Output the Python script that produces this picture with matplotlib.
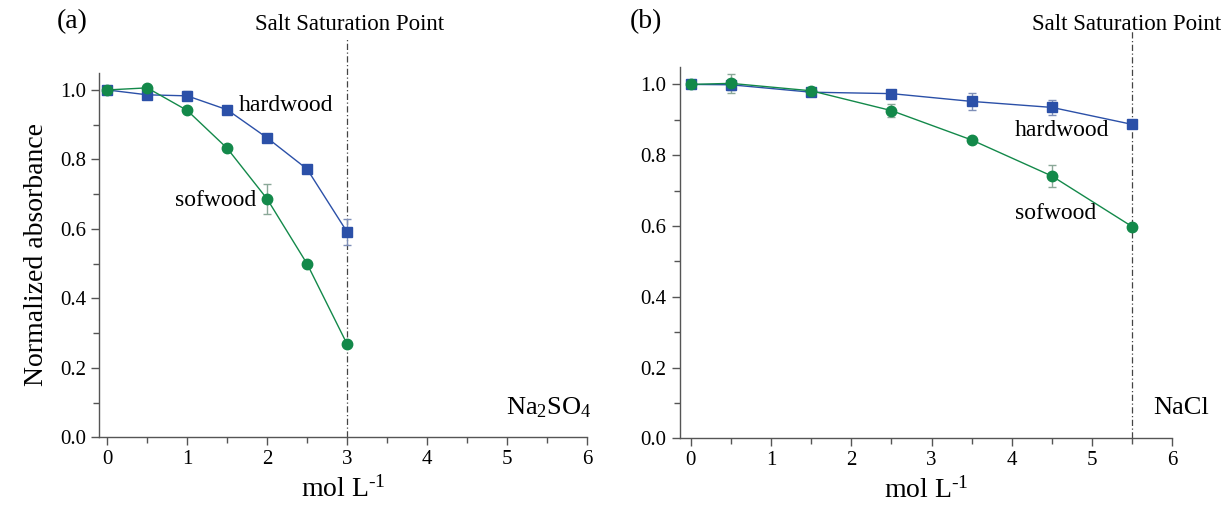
import numpy as np
import matplotlib
matplotlib.use('Agg')
import matplotlib.pyplot as plt
from matplotlib.ticker import MultipleLocator, FormatStrFormatter

plt.rcParams['font.family'] = ['Liberation Serif', 'DejaVu Serif']
plt.rcParams['mathtext.fontset'] = 'custom'
plt.rcParams['mathtext.rm'] = 'Liberation Serif'
plt.rcParams['mathtext.it'] = 'Liberation Serif:italic'

# panel (a): Na2SO4
conc_a = [0, 0.5, 1, 1.5, 2, 2.5, 3]
hard_a = [1.0, 0.986, 0.983, 0.943, 0.862, 0.772, 0.591]
hard_a_err = [0.0, 0.005, 0.013, 0.006, 0.006, 0.011, 0.037]
soft_a = [1.0, 1.006, 0.941, 0.832, 0.686, 0.499, 0.268]
soft_a_err = [0.0, 0.004, 0.004, 0.004, 0.043, 0.004, 0.004]

# panel (b): NaCl
conc_b = [0, 0.5, 1.5, 2.5, 3.5, 4.5, 5.5]
hard_b = [1.0, 0.999, 0.978, 0.974, 0.952, 0.935, 0.887]
hard_b_err = [0.0, 0.015, 0.004, 0.004, 0.024, 0.02, 0.004]
soft_b = [1.0, 1.003, 0.982, 0.926, 0.843, 0.741, 0.598]
soft_b_err = [0.0, 0.027, 0.004, 0.018, 0.004, 0.032, 0.006]

sat_a = 3.0
sat_b = 5.5

blue = '#2b50a8'
green = '#13894a'

fig = plt.figure(figsize=(12.27, 5.09), dpi=100)
ax1 = fig.add_axes([0.0809, 0.1409, 0.3975, 0.7165])
ax2 = fig.add_axes([0.5538, 0.1389, 0.4017, 0.730])


def draw(ax, x, hard, hard_err, soft, soft_err, sat, xmin):
    ax.errorbar(x, hard, yerr=hard_err, color=blue, marker='s', ms=6.5, lw=1.0,
                ecolor='#7f8fb8', elinewidth=1.0, capsize=3, zorder=3)
    ax.errorbar(x, soft, yerr=soft_err, color=green, marker='o', ms=7.5, lw=1.0,
                ecolor='#8aa898', elinewidth=1.0, capsize=3, zorder=3)
    ax.plot([sat, sat], [0, 1.15], color='#444444', lw=0.9,
            linestyle=(0, (5, 2, 1, 2)), clip_on=False, zorder=2)
    ax.set_xlim(xmin, 6)
    ax.set_ylim(0, 1.05)
    ax.xaxis.set_major_locator(MultipleLocator(1))
    ax.xaxis.set_minor_locator(MultipleLocator(0.5))
    ax.yaxis.set_major_locator(MultipleLocator(0.2))
    ax.yaxis.set_minor_locator(MultipleLocator(0.1))
    ax.yaxis.set_major_formatter(FormatStrFormatter('%.1f'))
    ax.spines['top'].set_visible(False)
    ax.spines['right'].set_visible(False)
    for s in ['left', 'bottom']:
        ax.spines[s].set_color('#555555')
        ax.spines[s].set_linewidth(1.0)
    ax.tick_params(which='major', direction='out', length=6, width=1.0,
                   color='#555555', labelsize=15)
    ax.tick_params(which='minor', direction='out', length=4, width=1.0,
                   color='#555555')
    ax.set_xlabel('mol L$^{\u20101}$', fontsize=20, labelpad=5)


draw(ax1, conc_a, hard_a, hard_a_err, soft_a, soft_a_err, sat_a, -0.1)
draw(ax2, conc_b, hard_b, hard_b_err, soft_b, soft_b_err, sat_b, -0.14)

ax1.set_ylabel('Normalized absorbance', fontsize=20, labelpad=8)

ax1.text(1.64, 0.954, 'hardwood', fontsize=17, ha='left', va='center')
ax1.text(1.86, 0.683, 'sofwood', fontsize=17, ha='right', va='center')
ax1.text(6.06, 0.084, 'Na$_\\mathregular{2}$SO$_\\mathregular{4}$', fontsize=19,
         ha='right', va='center', clip_on=False)

ax2.text(4.04, 0.871, 'hardwood', fontsize=17, ha='left', va='center')
ax2.text(4.04, 0.636, 'sofwood', fontsize=17, ha='left', va='center')
ax2.text(5.76, 0.085, 'NaCl', fontsize=19, ha='left', va='center', clip_on=False)

fig.text(72 / 1227, 1 - 22 / 509, '(a)', fontsize=20, ha='center', va='center')
fig.text(646 / 1227, 1 - 22 / 509, '(b)', fontsize=20, ha='center', va='center')
fig.text(350 / 1227, 1 - 24 / 509, 'Salt Saturation Point', fontsize=16.5,
         ha='center', va='center')
fig.text(1127 / 1227, 1 - 24 / 509, 'Salt Saturation Point', fontsize=16.5,
         ha='center', va='center')

fig.savefig('out.png', dpi=100, facecolor='white')
